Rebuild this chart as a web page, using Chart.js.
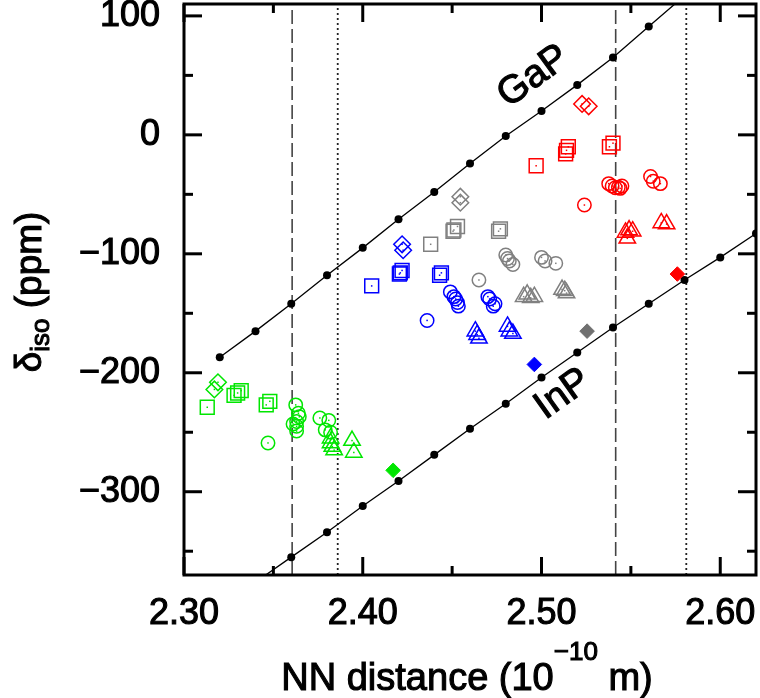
<!DOCTYPE html>
<html>
<head>
<meta charset="utf-8">
<script src="https://cdn.jsdelivr.net/npm/chart.js@4.4.1/dist/chart.umd.min.js"></script>
<style>
  html, body { margin: 0; padding: 0; background: #fff; }
</style>
</head>
<body>
<canvas id="c" width="760" height="698"></canvas>
<script>
// ---- data ----
const xTicks = [2.30, 2.40, 2.50, 2.60];
const xMinor = [2.35, 2.45, 2.55];
const yTicks = [100, 0, -100, -200, -300];
const yMinor = [50, -50, -150, -250, -350];

// NN distances (vertical guide lines)
const dashedNN = [2.3605, 2.5415];
const dottedNN = [2.386, 2.581];

// GaP / InP reference curves (last / first point only extends the line)
const gapX = [2.32, 2.34, 2.36, 2.38, 2.40, 2.42, 2.44, 2.46, 2.48, 2.50, 2.52, 2.54, 2.56, 2.58];
const gapY = [-187, -165, -142, -118, -95, -71, -48, -24, -1, 20, 42, 65, 91, 117];
const inpX = [2.34, 2.36, 2.38, 2.40, 2.42, 2.44, 2.46, 2.48, 2.50, 2.52, 2.54, 2.56, 2.58, 2.60, 2.62];
const inpY = [-376, -355, -334, -312, -291, -269, -247, -226, -204, -183, -162, -142, -122, -103, -83];

// green
const greenDiamonds  = [[2.319, -208], [2.317, -214]];
const greenSquares   = [[2.313, -229], [2.328, -219], [2.330, -217], [2.332, -215], [2.346, -227], [2.348, -224]];
const greenCircles   = [[2.347, -259], [2.3625, -227], [2.364, -234], [2.3645, -237], [2.363, -241], [2.361, -243],
                        [2.363, -245], [2.363, -249], [2.376, -238], [2.381, -240], [2.379, -248], [2.382, -250]];
const greenTriangles = [[2.382, -255], [2.382, -259], [2.383, -262], [2.384, -265], [2.394, -257], [2.395, -267]];
const greenFilled    = [[2.417, -282]];
// blue
const blueDiamonds   = [[2.422, -92], [2.4226, -97]];
const blueSquares    = [[2.405, -127], [2.421, -116], [2.422, -114], [2.4205, -117], [2.443, -118], [2.444, -116]];
const blueCircles    = [[2.436, -156], [2.449, -132], [2.451, -136], [2.452, -138], [2.453, -141], [2.4535, -144],
                        [2.470, -136], [2.471, -138], [2.474, -142], [2.473, -144]];
const blueTriangles  = [[2.463, -165], [2.464, -168], [2.465, -171], [2.481, -161], [2.482, -165], [2.484, -167]];
const blueFilled     = [[2.496, -193]];
// grey
const greyDiamonds   = [[2.4546, -52], [2.4546, -57]];
const greySquares    = [[2.438, -92], [2.451, -80], [2.453, -77], [2.4505, -81], [2.476, -81], [2.477, -79]];
const greyCircles    = [[2.465, -122], [2.480, -101], [2.481, -104], [2.482, -106], [2.484, -109],
                        [2.500, -103], [2.502, -106], [2.508, -108]];
const greyTriangles  = [[2.490, -136], [2.492, -134], [2.494, -137], [2.496, -136], [2.5115, -130], [2.513, -131], [2.514, -133]];
const greyFilled     = [[2.5255, -165]];
// red
const redDiamonds    = [[2.5227, 26], [2.5264, 24]];
const redSquares     = [[2.497, -26], [2.515, -10], [2.514, -13], [2.5135, -16], [2.538, -10], [2.540, -7]];
const redCircles     = [[2.524, -59], [2.5376, -41], [2.5395, -43], [2.5413, -44.5], [2.543, -44], [2.545, -43],
                        [2.544, -45], [2.561, -35], [2.5625, -39], [2.5665, -41]];
const redTriangles   = [[2.547, -82], [2.549, -80], [2.551, -81], [2.548, -87], [2.567, -74], [2.570, -75]];
const redFilled      = [[2.576, -117]];

const FONT = "'Liberation Sans', Arial, Helvetica, sans-serif";
const colors = { green: '#00e600', blue: '#0000ff', grey: '#808080', red: '#ff0000' };
const shapes = {
  diamond:  { pointStyle: 'rectRot',  pointRadius: 8.3 },
  square:   { pointStyle: 'rect',     pointRadius: 9.8 },
  circle:   { pointStyle: 'circle',   pointRadius: 6.7 },
  triangle: { pointStyle: 'triangle', pointRadius: 9.5 }
};

const pts = arr => arr.map(([x, y]) => ({ x, y }));

function openSet(arr, color, shape) {
  return Object.assign({
    data: pts(arr),
    borderColor: color,
    backgroundColor: 'rgba(0,0,0,0)',
    borderWidth: 1.5,
    showLine: false,
    centerDot: true,
    order: 0
  }, shapes[shape]);
}
function filledSet(arr, color) {
  return {
    data: pts(arr), pointStyle: 'rectRot', pointRadius: 7.3,
    borderColor: color, backgroundColor: color, borderWidth: 1, showLine: false, order: 0
  };
}
function curveSet(xs, ys, noDot) {
  return {
    data: xs.map((x, i) => ({ x, y: ys[i] })),
    showLine: true, borderColor: '#000', borderWidth: 1.3,
    pointRadius: ctx => (ctx.dataIndex === noDot ? 0 : 4),
    pointBackgroundColor: '#000', pointBorderWidth: 0, order: 5
  };
}
function vline(x, dash, color, w) {
  return {
    data: [{ x, y: -370 }, { x, y: 110 }],
    showLine: true, borderColor: color, borderWidth: w, borderDash: dash,
    pointRadius: 0, order: 10
  };
}

const datasets = [];
[['green', greenDiamonds, greenSquares, greenCircles, greenTriangles, greenFilled],
 ['blue', blueDiamonds, blueSquares, blueCircles, blueTriangles, blueFilled],
 ['grey', greyDiamonds, greySquares, greyCircles, greyTriangles, greyFilled],
 ['red', redDiamonds, redSquares, redCircles, redTriangles, redFilled]].forEach(([c, d, s, o, t, f]) => {
  datasets.push(openSet(d, colors[c], 'diamond'));
  datasets.push(openSet(s, colors[c], 'square'));
  datasets.push(openSet(o, colors[c], 'circle'));
  datasets.push(openSet(t, colors[c], 'triangle'));
  datasets.push(filledSet(f, c === 'grey' ? '#707070' : colors[c]));
});
const gapSet = curveSet(gapX, gapY, gapX.length - 1);
const inpSet = curveSet(inpX, inpY, 0);
datasets.push(gapSet, inpSet);
dashedNN.forEach(x => datasets.push(vline(x, [14, 5], '#444', 1.6)));
dottedNN.forEach(x => datasets.push(vline(x, [2, 3], '#222', 1.8)));

// small dot in the middle of each open marker
const centerDots = {
  id: 'centerDots',
  afterDatasetsDraw(chart) {
    const ctx = chart.ctx;
    ctx.save();
    chart.data.datasets.forEach((ds, i) => {
      if (!ds.centerDot) return;
      ctx.fillStyle = ds.borderColor;
      chart.getDatasetMeta(i).data.forEach(p => ctx.fillRect(p.x - 0.75, p.y - 0.75, 1.5, 1.5));
    });
    ctx.restore();
  }
};

// frame + inward ticks on all four sides
const frame = {
  id: 'frame',
  afterDraw(chart) {
    const { ctx, chartArea: a, scales: { x, y } } = chart;
    ctx.save();
    ctx.strokeStyle = '#000';
    ctx.lineWidth = 3;
    ctx.lineCap = 'butt';
    const seg = (x1, y1, x2, y2) => { ctx.beginPath(); ctx.moveTo(x1, y1); ctx.lineTo(x2, y2); ctx.stroke(); };
    const xt = (vals, len) => vals.forEach(v => {
      const px = x.getPixelForValue(v);
      seg(px, a.bottom, px, a.bottom - len);
      seg(px, a.top, px, a.top + len);
    });
    const yt = (vals, len) => vals.forEach(v => {
      const py = y.getPixelForValue(v);
      seg(a.left, py, a.left + len, py);
      seg(a.right, py, a.right - len, py);
    });
    xt(xTicks, 18); xt(xMinor, 9);
    yt(yTicks, 18); yt(yMinor, 9);
    ctx.strokeRect(a.left, a.top, a.right - a.left, a.bottom - a.top);
    ctx.restore();
  }
};

// rich text: parts of [text, size, baseline shift]
function richWidth(ctx, parts) {
  return parts.reduce((w, [t, s]) => { ctx.font = s + 'px ' + FONT; return w + ctx.measureText(t).width; }, 0);
}
function drawRich(ctx, parts, cx, baseY) {
  let xx = cx - richWidth(ctx, parts) / 2;
  parts.forEach(([t, s, dy]) => {
    ctx.font = s + 'px ' + FONT;
    ctx.fillText(t, xx, baseY + dy);
    ctx.strokeText(t, xx, baseY + dy);
    xx += ctx.measureText(t).width;
  });
}

const labels = {
  id: 'labels',
  afterDraw(chart) {
    const { ctx, chartArea: a, scales: { x, y } } = chart;
    ctx.save();
    ctx.fillStyle = '#000';
    ctx.strokeStyle = '#000';
    ctx.lineWidth = 1.1;
    ctx.textAlign = 'left';
    ctx.textBaseline = 'alphabetic';
    const cx = (a.left + a.right) / 2 - 3;
    drawRich(ctx, [['NN distance (10', 38, 0], ['\u221210', 26, -30], [' m)', 38, 0]], cx, 690);

    ctx.save();
    ctx.translate(41, 292);
    ctx.rotate(-Math.PI / 2);
    drawRich(ctx, [['\u03b4', 37, 0], ['iso', 26, 8], [' (ppm)', 37, 0]], 0, 0);
    ctx.restore();

    // curve names, rotated along their lines
    const tag = (text, meta, i0, i1, xv, yv) => {
      const p0 = meta.data[i0], p1 = meta.data[i1];
      const ang = Math.atan2(p1.y - p0.y, p1.x - p0.x);
      ctx.save();
      ctx.translate(x.getPixelForValue(xv), y.getPixelForValue(yv));
      ctx.rotate(ang);
      ctx.font = '39px ' + FONT;
      ctx.textAlign = 'center';
      ctx.textBaseline = 'middle';
      ctx.fillText(text, 0, 0);
      ctx.strokeText(text, 0, 0);
      ctx.restore();
    };
    tag('GaP', chart.getDatasetMeta(datasets.indexOf(gapSet)), 7, 10, 2.4956, 49);
    tag('InP', chart.getDatasetMeta(datasets.indexOf(inpSet)), 7, 10, 2.512, -218);
    ctx.restore();
  }
};

const noPad = s => { s.paddingTop = 0; s.paddingBottom = 0; s.paddingLeft = 0; s.paddingRight = 0; };

new Chart(document.getElementById('c'), {
  type: 'scatter',
  data: { datasets },
  options: {
    responsive: false,
    animation: false,
    layout: { autoPadding: false, padding: { top: 4, right: 4, left: 0, bottom: 0 } },
    plugins: { legend: { display: false }, tooltip: { enabled: false } },
    scales: {
      x: {
        type: 'linear', min: 2.30, max: 2.62,
        afterBuildTicks: s => { s.ticks = xTicks.map(v => ({ value: v })); },
        afterFit: s => { s.height = 123; noPad(s); },
        grid: { display: false, drawTicks: false },
        border: { display: false },
        ticks: {
          padding: 17, color: '#000', autoSkip: false, maxRotation: 0,
          textStrokeColor: '#000', textStrokeWidth: 1.1,
          font: { family: FONT, size: 36 },
          callback: v => v.toFixed(2)
        }
      },
      y: {
        type: 'linear', min: -370, max: 110,
        afterBuildTicks: s => { s.ticks = yTicks.map(v => ({ value: v })); },
        afterFit: s => { s.width = 184; noPad(s); },
        grid: { display: false, drawTicks: false },
        border: { display: false },
        ticks: {
          padding: 24, color: '#000', autoSkip: false,
          textStrokeColor: '#000', textStrokeWidth: 1.1,
          font: { family: FONT, size: 36 },
          callback: v => (v < 0 ? '\u2212' + Math.abs(v) : String(v))
        }
      }
    }
  },
  plugins: [centerDots, frame, labels]
});
</script>
</body>
</html>
